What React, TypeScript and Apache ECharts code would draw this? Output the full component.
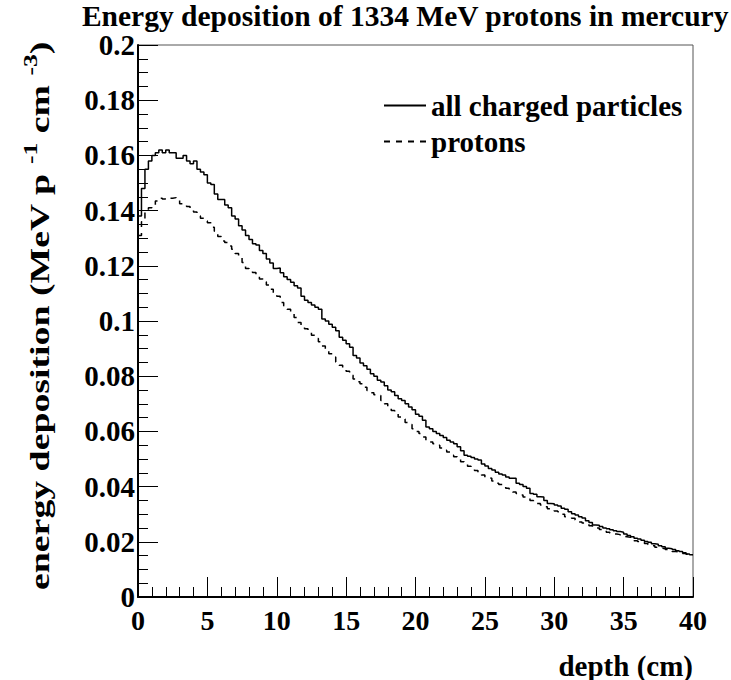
import React, { useEffect, useRef } from "react";
import * as echarts from "echarts";

// histogram bin width (cm); 160 bins from 0 to 40 cm
const BIN_WIDTH = 0.25;

const TITLE = "Energy deposition of 1334 MeV protons in mercury";
const X_NAME = "depth (cm)";
const SERIES_NAMES = ["all charged particles", "protons"];

// energy deposition, all charged particles (MeV p^-1 cm^-3), per 0.25 cm bin
const allCharged = [
  0.138, 0.148, 0.155, 0.158,
  0.160, 0.161, 0.162, 0.161,
  0.162, 0.161, 0.161, 0.159,
  0.159, 0.160, 0.158, 0.157,
  0.158, 0.155, 0.154, 0.153,
  0.150, 0.1495, 0.146, 0.144,
  0.144, 0.142, 0.141, 0.138,
  0.137, 0.1345, 0.133, 0.131,
  0.1295, 0.128, 0.1275, 0.1255,
  0.1245, 0.1225, 0.121, 0.119,
  0.1192, 0.1175, 0.116, 0.115,
  0.114, 0.1128, 0.112, 0.109,
  0.1075, 0.1067, 0.1058, 0.105,
  0.1043, 0.1007, 0.1, 0.0988,
  0.0977, 0.0965, 0.0941, 0.093,
  0.0918, 0.0905, 0.0875, 0.0866,
  0.0848, 0.0838, 0.0825, 0.0809,
  0.08, 0.0785, 0.0779, 0.0765,
  0.075, 0.0744, 0.073, 0.0718,
  0.0712, 0.07, 0.0688, 0.0678,
  0.0662, 0.0655, 0.064, 0.0616,
  0.061, 0.06, 0.0592, 0.0585,
  0.0578, 0.0568, 0.0562, 0.0555,
  0.0544, 0.053, 0.0514, 0.051,
  0.0505, 0.05, 0.0496, 0.0482,
  0.0475, 0.0466, 0.046, 0.0452,
  0.0446, 0.0442, 0.0435, 0.043,
  0.043, 0.0412, 0.0408, 0.04,
  0.0394, 0.0375, 0.0372, 0.0363,
  0.0362, 0.035, 0.0339, 0.0338,
  0.0333, 0.033, 0.0322, 0.0318,
  0.0309, 0.0302, 0.0297, 0.0291,
  0.0286, 0.0276, 0.027, 0.0261,
  0.026, 0.0255, 0.025, 0.0247,
  0.0244, 0.024, 0.0237, 0.0235,
  0.0228, 0.0223, 0.0218, 0.0213,
  0.021, 0.0206, 0.0201, 0.0198,
  0.0193, 0.0191, 0.0186, 0.0182,
  0.0177, 0.0175, 0.0172, 0.0168,
  0.0165, 0.016, 0.0156, 0.0153,
];

// energy deposition, protons only, per 0.25 cm bin
const protons = [
  0.131, 0.136, 0.14, 0.141,
  0.142, 0.1435, 0.1445, 0.1442,
  0.144, 0.1445, 0.1447, 0.144,
  0.1425, 0.142, 0.1415, 0.1402,
  0.1395, 0.138, 0.1372, 0.1362,
  0.1356, 0.134, 0.1325, 0.1306,
  0.129, 0.1284, 0.1272, 0.126,
  0.1245, 0.123, 0.1212, 0.119,
  0.1182, 0.1176, 0.1162, 0.1152,
  0.1142, 0.113, 0.1115, 0.1098,
  0.109, 0.1067, 0.1055, 0.1043,
  0.103, 0.1013, 0.0995, 0.0983,
  0.0972, 0.0959, 0.0948, 0.0937,
  0.0925, 0.0909, 0.0898, 0.0881,
  0.087, 0.0851, 0.084, 0.0827,
  0.0818, 0.0803, 0.079, 0.078,
  0.0773, 0.076, 0.0748, 0.074,
  0.0733, 0.073, 0.0712, 0.07,
  0.069, 0.0676, 0.0665, 0.0652,
  0.0645, 0.0632, 0.0625, 0.061,
  0.06, 0.0592, 0.058, 0.0568,
  0.0562, 0.0555, 0.055, 0.054,
  0.0532, 0.0525, 0.0514, 0.0508,
  0.05, 0.049, 0.0482, 0.0474,
  0.0466, 0.0458, 0.0448, 0.0442,
  0.0432, 0.043, 0.042, 0.0412,
  0.0408, 0.04, 0.0394, 0.0388,
  0.038, 0.0375, 0.037, 0.0362,
  0.0357, 0.035, 0.0342, 0.0339,
  0.0333, 0.0327, 0.032, 0.0316,
  0.0312, 0.0309, 0.03, 0.0291,
  0.0289, 0.0285, 0.0279, 0.0272,
  0.0268, 0.0264, 0.0258, 0.0254,
  0.025, 0.0245, 0.0242, 0.0235,
  0.0232, 0.0228, 0.0226, 0.022,
  0.0218, 0.0216, 0.0208, 0.0204,
  0.0201, 0.0198, 0.0194, 0.019,
  0.0186, 0.018, 0.0177, 0.0175,
  0.0172, 0.0169, 0.0165, 0.0163,
  0.0162, 0.0158, 0.0155, 0.0152,
];

// turn bin contents into step-line points (bin low edges + final upper edge)
function toSteps(vals: number[]): number[][] {
  const pts = vals.map((v, i) => [i * BIN_WIDTH, v]);
  pts.push([vals.length * BIN_WIDTH, vals[vals.length - 1]]);
  return pts;
}

const FONT = "'Liberation Serif', 'Times New Roman', serif";

export default function App() {
  const ref = useRef<HTMLDivElement>(null);

  useEffect(() => {
    if (!ref.current) return;
    const chart = echarts.init(ref.current, null, { renderer: "svg" });
    const labelStyle = {
      fontFamily: FONT,
      fontWeight: "bold" as const,
      fontSize: 28,
      color: "#000",
    };
    chart.setOption({
      animation: false,
      backgroundColor: "#fff",
      textStyle: { fontFamily: FONT },
      title: {
        text: TITLE,
        right: 2,
        top: 1,
        padding: 0,
        textStyle: { ...labelStyle, fontSize: 29.5 },
      },
      legend: {
        orient: "vertical",
        left: 383,
        top: 91,
        itemWidth: 42,
        itemHeight: 14,
        itemGap: 7,
        padding: 0,
        itemStyle: { color: "transparent", borderColor: "transparent", borderWidth: 0 },
        textStyle: { ...labelStyle, fontSize: 29 },
        data: SERIES_NAMES,
      },
      grid: {
        left: 138,
        right: 38,
        top: 45,
        bottom: 81,
        show: true,
        borderColor: "#555",
        borderWidth: 1,
        backgroundColor: "transparent",
      },
      xAxis: {
        type: "value",
        min: 0,
        max: 40,
        interval: 5,
        name: X_NAME,
        nameLocation: "end",
        nameGap: 0,
        nameTextStyle: {
          ...labelStyle,
          fontSize: 29,
          align: "right",
          verticalAlign: "top",
          padding: [54, 0, 0, 0],
        },
        axisLine: { show: true, onZero: false, lineStyle: { color: "#000", width: 2 } },
        axisTick: { show: true, inside: true, length: 20, lineStyle: { color: "#000", width: 1 } },
        minorTick: { show: true, splitNumber: 5, length: 10, lineStyle: { color: "#000", width: 1 } },
        axisLabel: { ...labelStyle, margin: 9 },
        splitLine: { show: false },
        minorSplitLine: { show: false },
      },
      yAxis: {
        type: "value",
        min: 0,
        max: 0.2,
        interval: 0.02,
        axisLine: { show: true, onZero: false, lineStyle: { color: "#000", width: 2 } },
        axisTick: { show: true, inside: true, length: 20, lineStyle: { color: "#000", width: 1 } },
        minorTick: { show: true, splitNumber: 4, length: 10, lineStyle: { color: "#000", width: 1 } },
        axisLabel: { ...labelStyle, fontSize: 29, margin: 3 },
        splitLine: { show: false },
        minorSplitLine: { show: false },
      },
      graphic: [
        {
          type: "text",
          x: 39,
          y: 316,
          rotation: Math.PI / 2,
          scaleX: 1.35,
          style: {
            text: "energy deposition (MeV p {sup|-1} cm {sup|-3})",
            fontFamily: FONT,
            fontWeight: "bold",
            fontSize: 28,
            lineHeight: 36,
            fill: "#000",
            align: "center",
            verticalAlign: "middle",
            rich: {
              sup: {
                fontFamily: FONT,
                fontWeight: "bold",
                fontSize: 19,
                lineHeight: 19,
                verticalAlign: "top",
                fill: "#000",
              },
            },
          },
        },
      ],
      series: [
        {
          name: SERIES_NAMES[0],
          type: "line",
          step: "end",
          symbol: "none",
          showSymbol: false,
          lineStyle: { color: "#000", width: 1.5, type: "solid" },
          itemStyle: { color: "#000" },
          data: toSteps(allCharged),
          z: 3,
        },
        {
          name: SERIES_NAMES[1],
          type: "line",
          step: "end",
          symbol: "none",
          showSymbol: false,
          lineStyle: { color: "#000", width: 1.5, type: [6, 6] },
          itemStyle: { color: "#000" },
          data: toSteps(protons),
          z: 2,
        },
      ],
    });
    return () => chart.dispose();
  }, []);

  return (
    <div
      ref={ref}
      style={{ position: "fixed", left: 0, top: 0, width: 731, height: 680 }}
    />
  );
}
